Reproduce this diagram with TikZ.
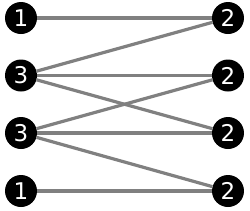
\documentclass[tikz,border=0pt]{standalone}
\usepackage{fontspec}
\setmainfont{DejaVu Sans}
\begin{document}
\begin{tikzpicture}[x=1pt,y=-1pt,
  vtx/.style={circle,fill=black,text=white,minimum size=32pt,inner sep=0pt,font=\fontsize{23}{23}\selectfont},
  edge/.style={draw=gray,line width=3.2pt}]
\useasboundingbox (0,0) rectangle (250,210);
\node[vtx] (l1) at (21,18) {1};
\node[vtx] (l2) at (21,75.5) {3};
\node[vtx] (l3) at (21,133) {3};
\node[vtx] (l4) at (21,191) {1};
\node[vtx] (r1) at (228,18) {2};
\node[vtx] (r2) at (228,75.5) {2};
\node[vtx] (r3) at (228,133) {2};
\node[vtx] (r4) at (228,191) {2};
\draw[edge] (l1) -- (r1);
\draw[edge] (l2) -- (r1);
\draw[edge] (l2) -- (r2);
\draw[edge] (l2) -- (r3);
\draw[edge] (l3) -- (r2);
\draw[edge] (l3) -- (r3);
\draw[edge] (l3) -- (r4);
\draw[edge] (l4) -- (r4);
\end{tikzpicture}
\end{document}
